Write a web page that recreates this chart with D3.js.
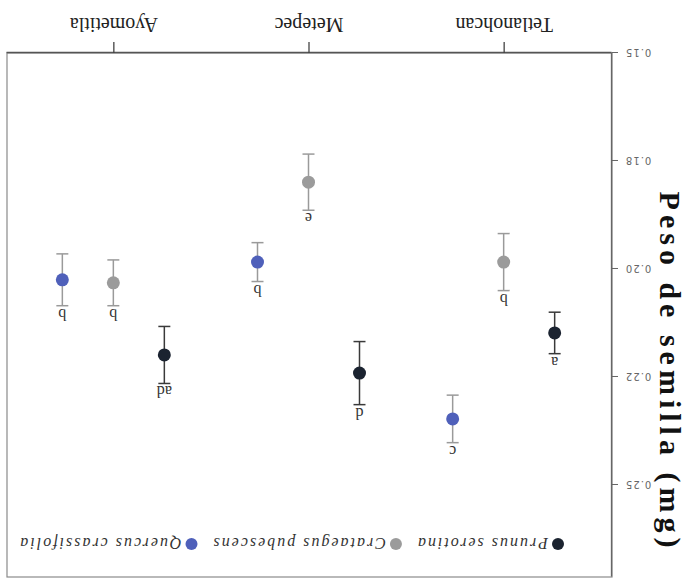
<!DOCTYPE html>
<html>
<head>
<meta charset="utf-8">
<script src="https://cdn.jsdelivr.net/npm/d3@7"></script>
<style>
  body { margin: 0; background: #fff; }
</style>
</head>
<body>
<div id="chart"></div>
<script>
// sites (x categories) and species (series)
var sites = ["Tetlanohcan", "Metepec", "Ayometitla"];
var species = ["Prunus serotina", "Crataegus pubescens", "Quercus crassifolia"];

// mean seed weight (mg) per site, one array per species
var prunusMean = [0.2148, 0.2241, 0.2199];
var crataegusMean = [0.1984, 0.1799, 0.2032];
var quercusMean = [0.2347, 0.1984, 0.2025];

// error bar half-widths
var prunusErr = [0.0048, 0.0073, 0.0066];
var crataegusErr = [0.0066, 0.0065, 0.0053];
var quercusErr = [0.0055, 0.0045, 0.0060];

// significance letters
var prunusLetters = ["a", "d", "ad"];
var crataegusLetters = ["b", "e", "b"];
var quercusLetters = ["c", "b", "b"];

// y axis ticks and their printed labels
var yTicks = [0.15, 0.175, 0.20, 0.225, 0.25];
var yTickLabels = ["0.15", "0.18", "0.20", "0.22", "0.25"];

var W = 687, H = 582;
var margin = { top: 5, right: 7, bottom: 53, left: 75 };

var svg = d3.select("#chart").append("svg")
  .attr("width", W)
  .attr("height", H);

// the reference page is photographed upside down, so draw upright and turn it
var root = svg.append("g")
  .attr("transform", "rotate(180," + W / 2 + "," + H / 2 + ")");

var x = d3.scalePoint()
  .domain(sites)
  .range([margin.left, W - margin.right])
  .padding(0.55);

var dodge = d3.scalePoint()
  .domain(species)
  .range([-50, 52]);

var y = d3.scaleLinear()
  .domain([0.15, 0.2713])
  .range([H - margin.bottom, margin.top]);

var color = d3.scaleOrdinal()
  .domain(species)
  .range(["#1b2330", "#9b9b9b", "#4f60ba"]);

var errColor = d3.scaleOrdinal()
  .domain(species)
  .range(["#3a3a3a", "#9a9a9a", "#9a9a9a"]);

// build the long table
var table = [];
var means = [prunusMean, crataegusMean, quercusMean];
var errs = [prunusErr, crataegusErr, quercusErr];
var letters = [prunusLetters, crataegusLetters, quercusLetters];
species.forEach(function (sp, i) {
  sites.forEach(function (site, j) {
    table.push({ species: sp, site: site, mean: means[i][j], err: errs[i][j], letter: letters[i][j] });
  });
});

// frame
root.append("rect")
  .attr("x", margin.left)
  .attr("y", margin.top)
  .attr("width", W - margin.left - margin.right)
  .attr("height", H - margin.top - margin.bottom)
  .attr("fill", "none")
  .attr("stroke", "#8a8a8a")
  .attr("stroke-width", 1.2);

// x axis
var xAxis = root.append("g")
  .attr("transform", "translate(0," + (H - margin.bottom) + ")")
  .call(d3.axisBottom(x).tickSize(11).tickSizeOuter(0));
xAxis.select(".domain").attr("stroke", "#555").attr("stroke-width", 1.3);
xAxis.selectAll(".tick line").attr("stroke", "#444").attr("stroke-width", 1.3);
xAxis.selectAll(".tick text")
  .attr("y", 35)
  .attr("dy", 0)
  .attr("fill", "#222")
  .style("font-family", "'Liberation Serif', 'Times New Roman', serif")
  .style("font-size", "20px");

// y axis
var yAxis = root.append("g")
  .attr("transform", "translate(" + margin.left + ",0)")
  .call(d3.axisLeft(y)
    .tickValues(yTicks)
    .tickFormat(function (d, i) { return yTickLabels[i]; })
    .tickSize(6)
    .tickSizeOuter(0));
yAxis.select(".domain").attr("stroke", "#666").attr("stroke-width", 1.3);
yAxis.selectAll(".tick line").attr("stroke", "#666");
yAxis.selectAll(".tick text")
  .attr("x", -13)
  .attr("fill", "#666")
  .style("font-family", "'DejaVu Sans', sans-serif")
  .style("font-size", "10px")
  .style("letter-spacing", "1px");

// y title
root.append("text")
  .attr("transform", "translate(17,210) rotate(-90)")
  .attr("text-anchor", "middle")
  .attr("dominant-baseline", "central")
  .attr("fill", "#111")
  .style("font-family", "'Liberation Serif', 'Times New Roman', serif")
  .style("font-weight", "bold")
  .style("font-size", "30px")
  .style("letter-spacing", "5px")
  .text("Peso de semilla (mg)");

// error bars
var cap = 6;
var pts = root.append("g").selectAll("g")
  .data(table)
  .enter().append("g")
  .attr("transform", function (d) { return "translate(" + (x(d.site) + dodge(d.species)) + ",0)"; });

pts.append("line")
  .attr("y1", function (d) { return y(d.mean - d.err); })
  .attr("y2", function (d) { return y(d.mean + d.err); })
  .attr("stroke", function (d) { return errColor(d.species); })
  .attr("stroke-width", 1.5);

pts.selectAll(".cap")
  .data(function (d) { return [d.mean - d.err, d.mean + d.err].map(function (v) { return { v: v, species: d.species }; }); })
  .enter().append("line")
  .attr("class", "cap")
  .attr("x1", -cap)
  .attr("x2", cap)
  .attr("y1", function (c) { return y(c.v); })
  .attr("y2", function (c) { return y(c.v); })
  .attr("stroke", function (c) { return errColor(c.species); })
  .attr("stroke-width", 1.5);

pts.append("circle")
  .attr("cy", function (d) { return y(d.mean); })
  .attr("r", 6.5)
  .attr("fill", function (d) { return color(d.species); });

pts.append("text")
  .attr("y", function (d) { return y(d.mean + d.err) - 3; })
  .attr("text-anchor", "middle")
  .attr("fill", "#333")
  .style("font-family", "'Liberation Serif', 'Times New Roman', serif")
  .style("font-size", "16px")
  .text(function (d) { return d.letter; });

// legend
var legend = root.append("g").attr("transform", "translate(129,38)");
var lx = 0;
species.forEach(function (sp) {
  var item = legend.append("g").attr("transform", "translate(" + lx + ",0)");
  item.append("circle")
    .attr("r", 6)
    .attr("fill", color(sp));
  var t = item.append("text")
    .attr("x", 10)
    .attr("dy", "0.35em")
    .attr("fill", "#333")
    .style("font-family", "'Liberation Serif', 'Times New Roman', serif")
    .style("font-style", "italic")
    .style("font-size", "16px")
    .style("letter-spacing", "2px")
    .text(sp);
  lx += 10 + t.node().getComputedTextLength() + 20;
});
</script>
</body>
</html>
